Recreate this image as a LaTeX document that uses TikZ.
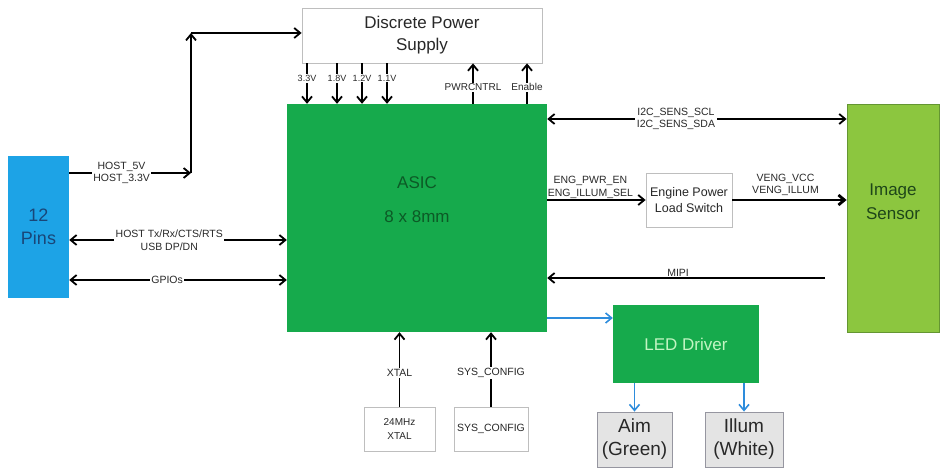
\documentclass[tikz,border=0pt]{standalone}
\usepackage{fontspec}
\setmainfont{Liberation Sans}
\usetikzlibrary{arrows.meta, positioning, calc}
\definecolor{asicgreen}{RGB}{22,170,76}
\definecolor{asictext}{RGB}{12,90,38}
\definecolor{ledtext}{RGB}{195,245,195}
\definecolor{pinblue}{RGB}{29,163,230}
\definecolor{pintext}{RGB}{25,70,120}
\definecolor{sensgreen}{RGB}{140,198,63}
\definecolor{sensedge}{RGB}{100,150,50}
\definecolor{senstext}{RGB}{30,70,25}
\definecolor{boxgray}{RGB}{190,190,190}
\definecolor{lampfill}{RGB}{228,228,228}
\definecolor{lampedge}{RGB}{150,150,160}
\definecolor{lblgray}{RGB}{40,40,40}
\definecolor{ledblue}{RGB}{45,140,220}

\begin{document}
\begin{tikzpicture}[
  x=1pt, y=-1pt, >={Straight Barb[length=6pt,width=10pt]},
  sig/.style={->, line width=1.8pt, black},
  bus/.style={<->, line width=1.8pt, black},
  pwr/.style={->, line width=2.8pt, black},
  drv/.style={->, line width=1.6pt, ledblue},
  lbl/.style={font=\fontsize{10.5}{12.5}\selectfont, text=lblgray, fill=white,
              inner sep=1.5pt, align=center},
  rail/.style={font=\fontsize{9}{10}\selectfont, text=lblgray, fill=white, inner sep=1pt},
  plain/.style={draw=boxgray, fill=white, line width=0.8pt, align=center, inner sep=0pt},
  lamp/.style={draw=lampedge, fill=lampfill, line width=0.8pt, align=center, inner sep=0pt,
               font=\fontsize{19}{23}\selectfont, text=lblgray},
  big/.style={font=\fontsize{17}{22}\selectfont, align=center}
]
  \useasboundingbox (0,0) rectangle (942,470);

  %--- blocks ---
  \node[plain, big, text=lblgray, minimum width=240, minimum height=55]
    (dps) at (422,35.5) {Discrete Power\\Supply};
  \node[fill=asicgreen, minimum width=260, minimum height=228,
        label={[big, text=asictext, yshift=18pt]center:ASIC\\[12pt]8 x 8mm}]
    (asic) at (417,218) {};
  \node[fill=pinblue, minimum width=61, minimum height=142, align=center,
        font=\fontsize{18}{23}\selectfont, text=pintext]
    (pins) at (38.5,227) {12\\Pins};
  \node[fill=sensgreen, draw=sensedge, line width=0.8pt, minimum width=92, minimum height=228,
        label={[big, text=senstext, yshift=16pt, font=\fontsize{17}{24}\selectfont]center:Image\\Sensor}]
    (sens) at (893,218) {};
  \node[plain, minimum width=86, minimum height=54,
        font=\fontsize{12.5}{16}\selectfont, text=lblgray]
    (eps) at (689,200) {Engine Power\\Load Switch};
  \node[fill=asicgreen, minimum width=146, minimum height=78, big, text=ledtext]
    (led) at (686,344) {LED Driver};
  \node[lamp, minimum width=75, minimum height=55] (aim) at (634.5,439.5) {Aim\\(Green)};
  \node[lamp, minimum width=78, minimum height=55] (illum) at (744,439.5) {Illum\\(White)};
  \node[plain, minimum width=71, minimum height=44,
        font=\fontsize{10}{14}\selectfont, text=lblgray]
    (xtal) at (399.5,429) {24MHz\\XTAL};
  \node[plain, minimum width=74, minimum height=44,
        font=\fontsize{10.5}{12}\selectfont, text=lblgray]
    (sysc) at (491,429) {SYS\_CONFIG};

  %--- guide points ---
  \coordinate (cLow) at (191,173);
  \coordinate (cTop) at (191,33);
  \coordinate (yTx)  at (0,240);
  \coordinate (yGpio) at (0,280);
  \coordinate (yI2c) at (0,119);
  \coordinate (yMipi) at (825,278);
  \coordinate (yLed) at (0,318);
  \coordinate (xPc)  at (473,0);
  \coordinate (xEn)  at (527,0);

  %--- power rails into the ASIC ---
  \foreach \x/\v [count=\i] in {307/3.3V, 337/1.8V, 362/1.2V, 387/1.1V} {
    \coordinate (r\i) at (\x,0);
    \draw[sig] (dps.south -| r\i) -- (asic.north -| r\i)
      node[pos=0.37, rail] {\v};
  }
  % control lines back up
  \draw[sig] (asic.north -| xPc) -- (dps.south -| xPc)
    node[pos=0.41, rail, font=\fontsize{10}{11}\selectfont] {PWRCNTRL};
  \draw[sig] (asic.north -| xEn) -- (dps.south -| xEn)
    node[pos=0.41, rail, font=\fontsize{10}{11}\selectfont] {Enable};

  %--- host side ---
  % 1
  \draw[sig] (pins.east |- cLow) -- (cLow)
    node[pos=0.43, lbl] {HOST\_5V\\HOST\_3.3V};
  \draw[sig] (cLow) -- (cTop);
  \draw[sig] (cTop) -- (dps.west |- cTop);
  % 2
  \draw[bus] (pins.east |- yTx) -- (asic.west |- yTx)
    node[pos=0.46, lbl] {HOST Tx/Rx/CTS/RTS\\USB DP/DN};
  % 3
  \draw[bus] (pins.east |- yGpio) -- (asic.west |- yGpio)
    node[pos=0.45, lbl] {GPIOs};

  %--- sensor side ---
  % 4
  \draw[bus] (asic.east |- yI2c) -- (sens.west |- yI2c)
    node[pos=0.43, lbl] {I2C\_SENS\_SCL\\I2C\_SENS\_SDA};
  % 5
  \draw[sig] (asic.east |- eps.west) -- (eps.west)
    node[midway, above, lbl, fill=none, inner sep=1pt, xshift=-6pt] {ENG\_PWR\_EN\\ENG\_ILLUM\_SEL};
  % 6
  \draw[pwr] (eps.east) -- (sens.west |- eps.east)
    node[midway, above, lbl, fill=none, inner sep=3pt, xshift=-4pt] {VENG\_VCC\\VENG\_ILLUM};
  % 7  (MIPI back to the ASIC)
  \draw[sig] (yMipi) -- (asic.east |- yMipi)
    node[midway, above, lbl, fill=none, inner sep=0.5pt, xshift=-8pt] {MIPI};

  %--- LED path ---
  \draw[drv] (asic.east |- yLed) -- (led.west |- yLed);
  \draw[drv] (led.south -| aim.north) -- (aim.north);
  \draw[drv] (led.south -| illum.north) -- (illum.north);

  %--- clock and config ---
  \draw[sig] (xtal.north) -- (asic.south -| xtal.north)
    node[pos=0.45, lbl] {XTAL};
  \draw[sig] (sysc.north) -- (asic.south -| sysc.north)
    node[pos=0.45, lbl] {SYS\_CONFIG};

\end{tikzpicture}
\end{document}
